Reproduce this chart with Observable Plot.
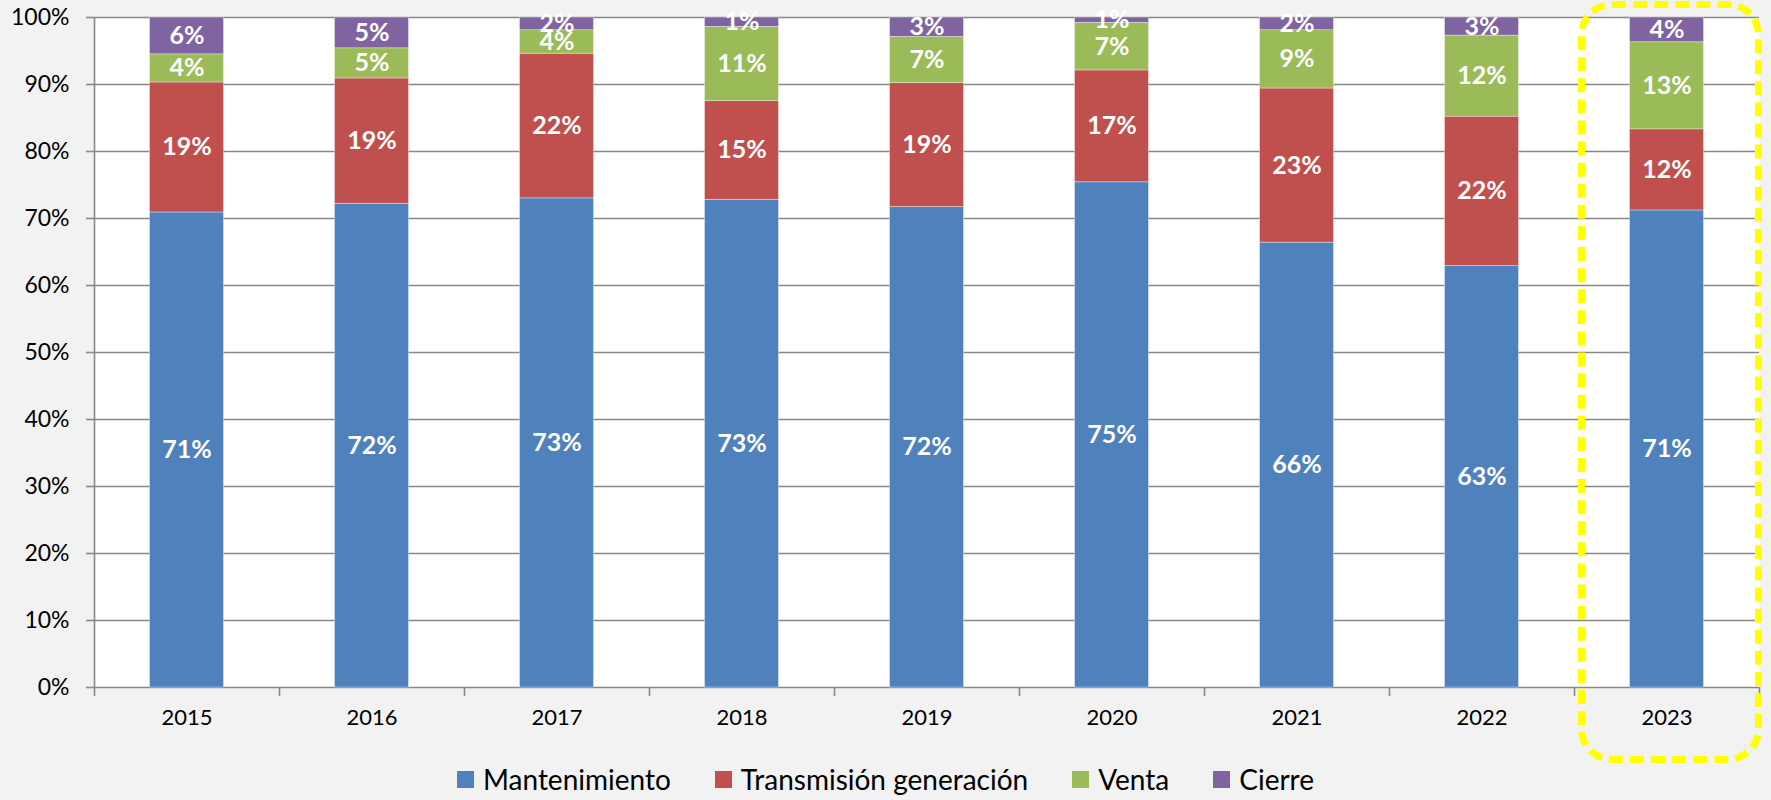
<!DOCTYPE html>
<html>
<head>
<meta charset="utf-8">
<script src="https://cdn.jsdelivr.net/npm/d3@7"></script>
<script src="https://cdn.jsdelivr.net/npm/@observablehq/plot@0.6"></script>
<style>
  html, body { margin: 0; padding: 0; background: #f2f2f2; width: 1771px; height: 800px; overflow: hidden; font-family: Lato, "Open Sans", sans-serif; }
  #wrap { position: relative; width: 1771px; height: 800px; }
  #legend { position: absolute; left: 0; width: 1771px; top: 760px; height: 38px; display: flex; justify-content: center; align-items: center; font-size: 28px; color: #000; }
  .item { display: flex; align-items: center; margin: 0 22px; }
  .sw { width: 17px; height: 17px; margin-right: 9px; }
  #hl { position: absolute; left: 1578px; top: 1px; width: 170px; height: 748px; border: 7px dashed #ffff00; border-radius: 34px; pointer-events: none; }
  #chart svg g[aria-label="y-axis tick label"] { font-size: 23px; }
  #chart svg g[aria-label="x-axis tick label"] { font-size: 22px; }
  #chart svg g.seglabels { font-size: 25px; }
</style>
</head>
<body>
<div id="wrap">
  <div id="chart"></div>
  <div id="legend"></div>
  <div id="hl"></div>
</div>
<script>
const years = [2015, 2016, 2017, 2018, 2019, 2020, 2021, 2022, 2023];
const series = ["Mantenimiento", "Transmisión generación", "Venta", "Cierre"];
const colors = ["#4f81bd", "#c0504d", "#9bbb59", "#8064a2"];
const mantenimiento = [70.9, 72.2, 73.0, 72.8, 71.7, 75.4, 66.4, 62.9, 71.2];
const transmision   = [19.4, 18.7, 21.6, 14.7, 18.5, 16.7, 23.0, 22.3, 12.1];
const venta         = [4.2, 4.5, 3.5, 11.1, 6.9, 7.1, 8.7, 12.1, 13.0];
const cierre        = [5.5, 4.6, 1.9, 1.4, 2.9, 0.8, 1.9, 2.7, 3.7];
const yTicks = [0, 10, 20, 30, 40, 50, 60, 70, 80, 90, 100];

const valuesBySeries = [mantenimiento, transmision, venta, cierre];
const rows = [];
years.forEach((yr, i) => {
  let acc = 0;
  series.forEach((s, k) => {
    const v = valuesBySeries[k][i];
    rows.push({year: yr, series: s, value: v, y1: acc, y2: acc + v});
    acc += v;
  });
});
const boundaries = years.map(y => y - 0.5).concat([years[years.length - 1] + 0.5]);
const half = 0.2;

const chart = Plot.plot({
  width: 1771,
  height: 755,
  marginLeft: 94,
  marginRight: 12,
  marginTop: 17,
  marginBottom: 68,
  style: {background: "#f2f2f2", fontFamily: "Lato, 'Open Sans', sans-serif", overflow: "visible"},
  x: {type: "linear", domain: [years[0] - 0.5, years[years.length - 1] + 0.5]},
  y: {domain: [0, 100]},
  color: {domain: series, range: colors},
  marks: [
    Plot.frame({fill: "white", stroke: null}),
    Plot.ruleY(yTicks, {stroke: "#888", strokeWidth: 1.6}),
    Plot.ruleX([boundaries[0]], {stroke: "#888", strokeWidth: 1.6}),
    Plot.rectY(rows, {x1: d => d.year - half, x2: d => d.year + half, y1: "y1", y2: "y2", fill: "series", stroke: "white", strokeWidth: 0.6, strokeOpacity: 0.6}),
    Plot.text(rows, {x: "year", y: d => (d.y1 + d.y2) / 2, text: d => Math.round(d.value) + "%", fill: "white", fontSize: 25, fontWeight: "bold", className: "seglabels"}),
    Plot.axisY({ticks: yTicks, tickFormat: d => d + "%", tickSize: 8, tickPadding: 17, fontSize: 23, stroke: "#888", strokeWidth: 1.6, color: "#000", label: null}),
    Plot.axisX({ticks: boundaries, tickFormat: () => "", tickSize: 9, stroke: "#888", strokeWidth: 1.6, label: null}),
    Plot.axisX({ticks: years, tickFormat: d => String(d), tickSize: 0, tickPadding: 22, fontSize: 22, color: "#000", label: null})
  ]
});
document.getElementById("chart").appendChild(chart);

const legend = document.getElementById("legend");
series.forEach((s, k) => {
  const it = document.createElement("div");
  it.className = "item";
  const sw = document.createElement("div");
  sw.className = "sw";
  sw.style.background = colors[k];
  const t = document.createElement("span");
  t.textContent = s;
  it.appendChild(sw);
  it.appendChild(t);
  legend.appendChild(it);
});
</script>
</body>
</html>
